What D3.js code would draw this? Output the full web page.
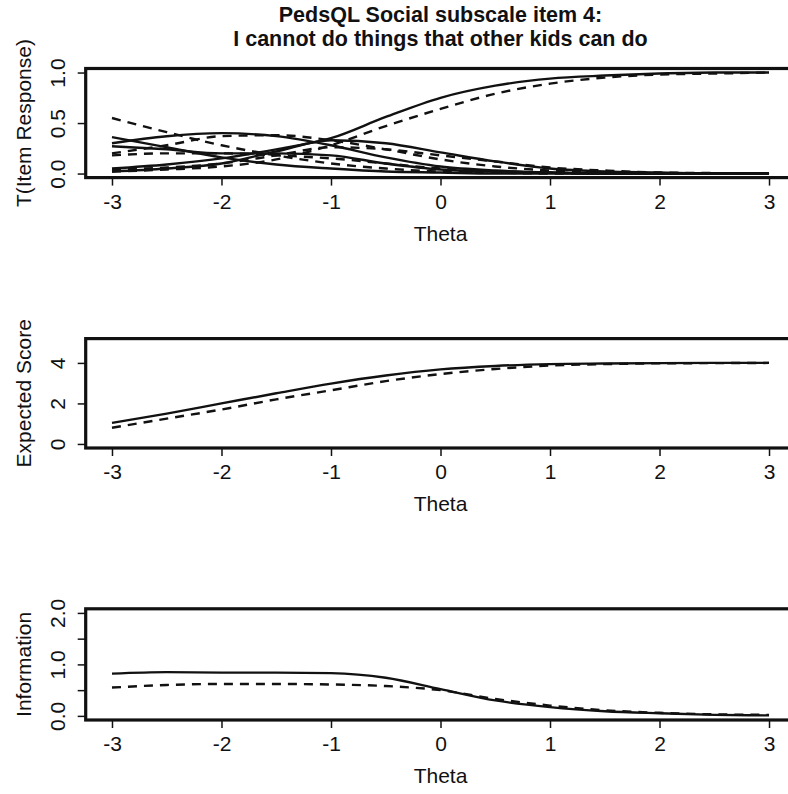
<!DOCTYPE html>
<html>
<head>
<meta charset="utf-8">
<script src="https://cdn.jsdelivr.net/npm/d3@7"></script>
<style>
  body { margin: 0; background: #fff; }
  text { fill: #111; }
</style>
</head>
<body>
<div id="chart"></div>
<script>
// theta grid the curves were read at
var theta = [-3, -2.5, -2, -1.5, -1, -0.5, 0, 0.5, 1, 1.5, 2, 2.5, 3];
var xTicks = [-3, -2, -1, 0, 1, 2, 3];

// category response curves, solid model (cat 0..4)
var solidCat0 = [0.36, 0.26, 0.16, 0.09, 0.05, 0.02, 0.01, 0.00, 0, 0, 0, 0, 0];
var solidCat1 = [0.30, 0.37, 0.40, 0.37, 0.28, 0.16, 0.07, 0.03, 0.01, 0, 0, 0, 0];
var solidCat2 = [0.27, 0.24, 0.20, 0.20, 0.18, 0.10, 0.04, 0.02, 0.01, 0, 0, 0, 0];
var solidCat3 = [0.02, 0.05, 0.10, 0.22, 0.33, 0.30, 0.21, 0.12, 0.05, 0.02, 0.01, 0, 0];
var solidCat4 = [0.05, 0.09, 0.15, 0.24, 0.35, 0.56, 0.75, 0.87, 0.94, 0.97, 0.99, 1.0, 1.0];

// category response curves, dashed model
var dashCat0 = [0.55, 0.41, 0.28, 0.18, 0.10, 0.05, 0.02, 0.01, 0, 0, 0, 0, 0];
var dashCat1 = [0.20, 0.28, 0.37, 0.38, 0.33, 0.24, 0.14, 0.07, 0.03, 0.01, 0, 0, 0];
var dashCat2 = [0.18, 0.20, 0.20, 0.18, 0.15, 0.10, 0.05, 0.02, 0.01, 0, 0, 0, 0];
var dashCat3 = [0.04, 0.06, 0.10, 0.18, 0.26, 0.24, 0.18, 0.12, 0.06, 0.03, 0.01, 0.005, 0];
var dashCat4 = [0.02, 0.04, 0.07, 0.14, 0.28, 0.47, 0.64, 0.79, 0.89, 0.95, 0.98, 0.99, 1.0];

// expected score
var scoreSolid = [1.04, 1.50, 2.00, 2.50, 2.98, 3.38, 3.68, 3.85, 3.94, 3.97, 3.99, 4.0, 4.0];
var scoreDash  = [0.80, 1.25, 1.70, 2.20, 2.65, 3.10, 3.45, 3.70, 3.87, 3.94, 3.98, 3.99, 4.0];

// information
var infoSolid = [0.82, 0.85, 0.84, 0.84, 0.83, 0.74, 0.52, 0.30, 0.17, 0.09, 0.05, 0.02, 0.01];
var infoDash  = [0.55, 0.60, 0.62, 0.62, 0.61, 0.58, 0.50, 0.33, 0.20, 0.11, 0.06, 0.03, 0.02];

var titleLines = ["PedsQL Social subscale item 4:", "I cannot do things that other kids can do"];

var svgWidth = 788;
var svgHeight = 794;

var svg = d3.select("#chart")
    .append("svg")
    .attr("width", svgWidth)
    .attr("height", svgHeight);

// shared x scale (R style 4% padding around -3..3)
var x = d3.scaleLinear()
    .domain([-3.24, 3.24])
    .range([85.7, 795.3]);

var narrow = "'Liberation Sans Narrow', 'Arial Narrow', 'Liberation Sans', Arial, sans-serif";
var sans = "'Liberation Sans', Arial, Helvetica, sans-serif";

svg.selectAll("text.title")
    .data(titleLines)
    .enter()
    .append("text")
    .attr("class", "title")
    .attr("x", x(0))
    .attr("y", (d, i) => 22 + i * 24)
    .attr("text-anchor", "middle")
    .style("font-family", sans)
    .style("font-weight", "bold")
    .style("font-size", "21.5px")
    .text(d => d);

function drawPanel(top, bottom, yDomain, yTicks, yLabels, yTitle, series) {
    var y = d3.scaleLinear().domain(yDomain).range([bottom, top]);

    var g = svg.append("g");

    var line = d3.line()
        .x((d, i) => x(theta[i]))
        .y(d => y(d))
        .curve(d3.curveMonotoneX);

    g.selectAll("path.curve")
        .data(series)
        .enter()
        .append("path")
        .attr("class", "curve")
        .attr("d", d => line(d.values))
        .attr("fill", "none")
        .attr("stroke", "#111")
        .attr("stroke-width", 2.4)
        .attr("stroke-dasharray", d => d.dashed ? "9,7" : null);

    // x axis
    var xAxis = g.append("g")
        .attr("transform", `translate(0, ${bottom})`)
        .call(d3.axisBottom(x).tickValues(xTicks).tickSize(8).tickFormat(d => d < 0 ? "-" + Math.abs(d) : d));
    xAxis.select(".domain").remove();
    xAxis.selectAll("line").attr("stroke", "#111").attr("stroke-width", 1.5);
    xAxis.selectAll("text")
        .attr("y", 16)
        .attr("dy", "0.71em")
        .style("font-family", narrow)
        .style("font-size", "21px")
        .style("fill", "#111");

    // y axis with rotated tick labels
    var yAxis = g.append("g")
        .attr("transform", `translate(${x.range()[0]}, 0)`)
        .call(d3.axisLeft(y).tickValues(yTicks).tickSize(8).tickFormat((d, i) => yLabels[i]));
    yAxis.select(".domain").remove();
    yAxis.selectAll("line").attr("stroke", "#111").attr("stroke-width", 1.5);
    yAxis.selectAll("text")
        .attr("transform", "rotate(-90)")
        .attr("x", 0)
        .attr("y", -21)
        .attr("dy", 0)
        .attr("text-anchor", "middle")
        .style("font-family", sans)
        .style("font-size", "21px")
        .style("fill", "#111");

    // box
    g.append("rect")
        .attr("x", x.range()[0])
        .attr("y", top)
        .attr("width", x.range()[1] - x.range()[0])
        .attr("height", bottom - top)
        .attr("fill", "none")
        .attr("stroke", "#111")
        .attr("stroke-width", 3.2);

    g.append("text")
        .attr("transform", `translate(31, ${(top + bottom) / 2}) rotate(-90)`)
        .attr("text-anchor", "middle")
        .style("font-family", sans)
        .style("font-size", "21px")
        .text(yTitle);

    g.append("text")
        .attr("x", x(0))
        .attr("y", bottom + 63)
        .attr("text-anchor", "middle")
        .style("font-family", narrow)
        .style("font-size", "21px")
        .text("Theta");
}

drawPanel(68.5, 177.6, [-0.04, 1.04], [0, 0.5, 1], ["0.0", "0.5", "1.0"], "T(Item Response)", [
    {values: solidCat0, dashed: false},
    {values: solidCat1, dashed: false},
    {values: solidCat2, dashed: false},
    {values: solidCat3, dashed: false},
    {values: solidCat4, dashed: false},
    {values: dashCat0, dashed: true},
    {values: dashCat1, dashed: true},
    {values: dashCat2, dashed: true},
    {values: dashCat3, dashed: true},
    {values: dashCat4, dashed: true}
]);

drawPanel(338.6, 448, [-0.2, 5.2], [0, 2, 4], ["0", "2", "4"], "Expected Score", [
    {values: scoreSolid, dashed: false},
    {values: scoreDash, dashed: true}
]);

drawPanel(608.8, 720, [-0.08, 2.08], [0, 0.5, 1, 1.5, 2], ["0.0", "", "1.0", "", "2.0"], "Information", [
    {values: infoSolid, dashed: false},
    {values: infoDash, dashed: true}
]);
</script>
</body>
</html>
